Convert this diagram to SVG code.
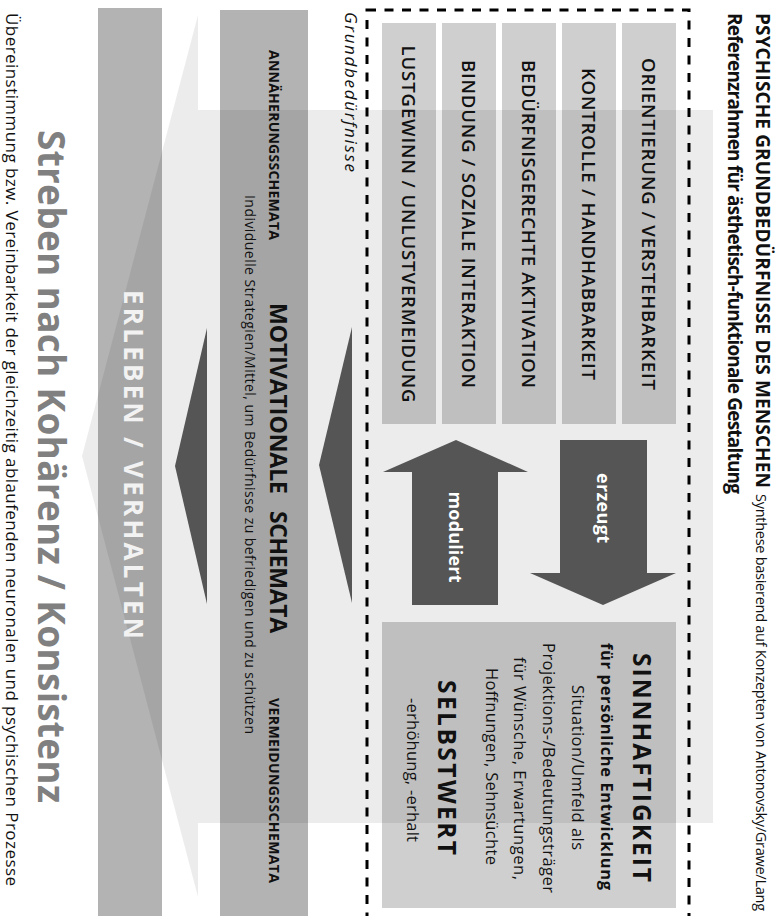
<svg xmlns="http://www.w3.org/2000/svg" width="778" height="916" viewBox="0 0 778 916">
<style>
text{font-family:"Open Sans","Noto Sans","DejaVu Sans",sans-serif;fill:#111;}
.b{font-weight:700;}
.need{font-weight:600;font-size:18.5px;text-anchor:middle;}
.mid{text-anchor:middle;}
.box{fill:#cfcfcf;}
.col{fill:#b3b3b3;}
.dark{fill:#555555;}
.wt{fill:#ffffff;}
</style>
<rect width="778" height="916" fill="#ffffff"/>
<g id="col-erleben"><rect class="col" x="98" y="8" width="64" height="910"/></g>
<g id="col-motivation"><rect class="col" x="220" y="10" width="88" height="908"/></g>
<g id="needs-boxes">
<rect class="box" x="382" y="23" width="54" height="401"/>
<rect class="box" x="442" y="23" width="54" height="401"/>
<rect class="box" x="502" y="23" width="54" height="401"/>
<rect class="box" x="562" y="23" width="54" height="401"/>
<rect class="box" x="622" y="23" width="54" height="401"/>
</g>
<g id="sinn-box"><rect class="box" x="382" y="622" width="294" height="286"/></g>
<g id="overlay-arrow"><polygon points="198,15 198,110 713,110 713,823 198,823 198,897 82,456" fill="#000000" fill-opacity="0.075"/></g>
<g id="grundbeduerfnisse-frame"><rect x="367" y="10" width="322" height="930" fill="none" stroke="#000" stroke-width="3" stroke-dasharray="9 8.5"/></g>
<g id="connectors">
<polygon class="dark" points="560,440 647,440 647,573 676,573 603,605 530,573 560,573"/>
<polygon class="dark" points="456,440 528,472 498,472 498,605 412,605 412,472 383,472"/>
<polygon class="dark" points="352,327 319,465 352,603"/>
<polygon class="dark" points="207,328 175,466 207,604"/>
</g>
<g id="title">
<text class="b mid" font-size="19" transform="translate(756,250.5) rotate(90)" textLength="475">PSYCHISCHE GRUNDBEDÜRFNISSE DES MENSCHEN</text>
<text class="mid" font-size="14.5" transform="translate(756,702.5) rotate(90)" textLength="417">Synthese basierend auf Konzepten von Antonovsky/Grawe/Lang</text>
<text class="b mid" font-size="19" transform="translate(728,253.5) rotate(90)" textLength="481">Referenzrahmen für ästhetisch-funktionale Gestaltung</text>
</g>
<g id="need-orientierung"><text class="need" transform="translate(642,224) rotate(90)" textLength="332">ORIENTIERUNG / VERSTEHBARKEIT</text></g>
<g id="need-kontrolle"><text class="need" transform="translate(582,224) rotate(90)" textLength="312">KONTROLLE / HANDHABBARKEIT</text></g>
<g id="need-aktivation"><text class="need" transform="translate(522,224) rotate(90)" textLength="328">BEDÜRFNISGERECHTE AKTIVATION</text></g>
<g id="need-bindung"><text class="need" transform="translate(462,224) rotate(90)" textLength="328">BINDUNG / SOZIALE INTERAKTION</text></g>
<g id="need-lustgewinn"><text class="need" transform="translate(402,224) rotate(90)" textLength="357">LUSTGEWINN / UNLUSTVERMEIDUNG</text></g>
<g id="label-erzeugt"><text class="b mid wt" font-size="18" transform="translate(597,508) rotate(90)" textLength="70">erzeugt</text></g>
<g id="label-moduliert"><text class="b mid wt" font-size="18" transform="translate(449,537) rotate(90)" textLength="91">moduliert</text></g>
<g id="sinn-text">
<text class="b mid" font-size="24.5" transform="translate(633,767.5) rotate(90)" textLength="229">SINNHAFTIGKEIT</text>
<text class="b mid" font-size="16.5" transform="translate(601,766.5) rotate(90)" textLength="247">für persönliche Entwicklung</text>
<text class="mid" font-size="16.5" transform="translate(572,767.5) rotate(90)" textLength="165">Situation/Umfeld als</text>
<text class="mid" font-size="16.5" transform="translate(543,768) rotate(90)" textLength="250">Projektions-/Bedeutungsträger</text>
<text class="mid" font-size="16.5" transform="translate(514,768.5) rotate(90)" textLength="223">für Wünsche, Erwartungen,</text>
<text class="mid" font-size="16.5" transform="translate(486,766.5) rotate(90)" textLength="197">Hoffnungen, Sehnsüchte</text>
<text class="b mid" font-size="24.5" transform="translate(438,767.5) rotate(90)" textLength="175">SELBSTWERT</text>
<text class="mid" font-size="16.5" transform="translate(407,770) rotate(90)" textLength="144">-erhöhung, -erhalt</text>
</g>
<g id="label-grundbeduerfnisse"><text font-size="17" font-style="italic" transform="translate(345,12) rotate(90)" textLength="160">Grundbedürfnisse</text></g>
<g id="motivation-text">
<text class="b mid" font-size="14" transform="translate(269,145) rotate(90)" textLength="190">ANNÄHERUNGSSCHEMATA</text>
<text class="b" font-size="23" transform="translate(270,0) rotate(90)"><tspan x="303" textLength="191">MOTIVATIONALE</tspan><tspan x="511" textLength="122">SCHEMATA</tspan></text>
<text class="mid" font-size="14" transform="translate(245,464.5) rotate(90)" textLength="539">Individuelle Strategien/Mittel, um Bedürfnisse zu befriedigen und zu schützen</text>
<text class="b mid" font-size="14" transform="translate(269,790.5) rotate(90)" textLength="185">VERMEIDUNGSSCHEMATA</text>
</g>
<g id="erleben-text"><text class="b mid" font-size="26" style="fill:#f2f2f2" transform="translate(124,464.5) rotate(90)" textLength="349">ERLEBEN / VERHALTEN</text></g>
<g id="streben-text">
<text class="b mid" font-size="37" style="fill:#808080" transform="translate(38,466.5) rotate(90)" textLength="673">Streben nach Kohärenz / Konsistenz</text>
<text class="mid" font-size="17" transform="translate(5.5,449.5) rotate(90)" textLength="873">Übereinstimmung bzw. Vereinbarkeit der gleichzeitig ablaufenden neuronalen und psychischen Prozesse</text>
</g>
</svg>
